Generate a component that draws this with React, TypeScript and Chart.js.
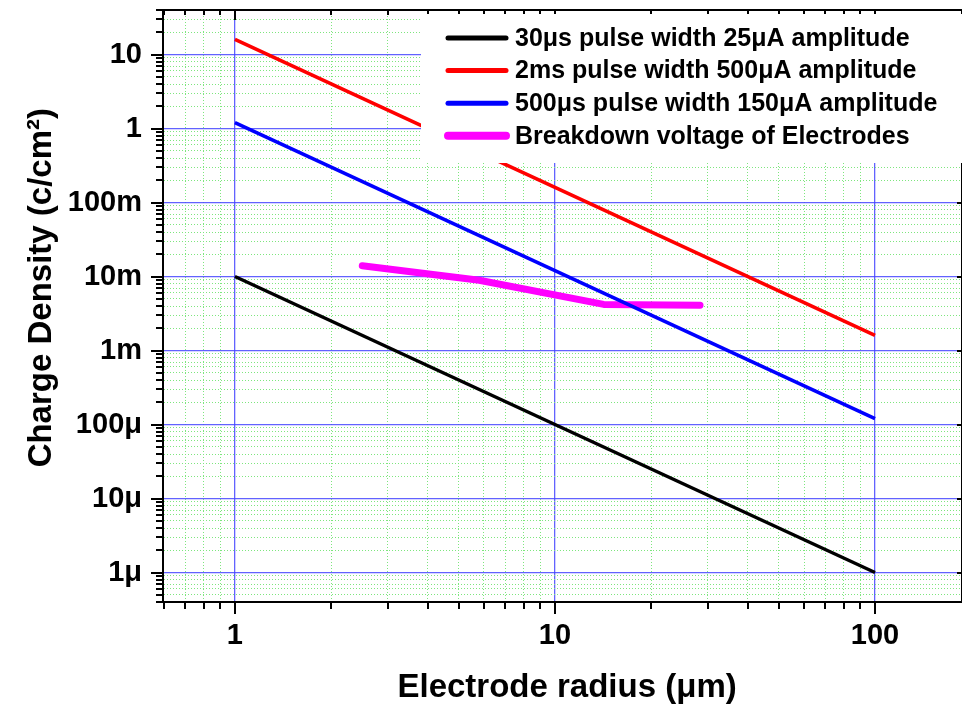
import React, { useEffect, useRef } from 'react';
import { Chart, registerables } from 'chart.js';

Chart.register(...registerables);

// ---- data ----
const radiusPoints = [1, 10, 100];
const density30us = [1e-2, 1e-4, 1e-6];
const density2ms = [16, 0.16, 1.6e-3];
const density500us = [1.2, 1.2e-2, 1.2e-4];
const breakdownRadius = [2.5, 5.8, 14.2, 28.4];
const breakdownDensity = [0.014, 0.0089, 0.0042, 0.0041];

const seriesLabels = [
  '30μs pulse width 25μA amplitude',
  '2ms pulse width 500μA amplitude',
  '500μs pulse width 150μA amplitude',
  'Breakdown voltage of Electrodes',
];

const xTickValues = [1, 10, 100];
const xTickLabels = ['1', '10', '100'];
const yTickValues = [10, 1, 0.1, 0.01, 0.001, 1e-4, 1e-5, 1e-6];
const yTickLabels = ['10', '1', '100m', '10m', '1m', '100μ', '10μ', '1μ'];

const FONT = '"Liberation Sans", Arial, Helvetica, sans-serif';

const lg = Math.log10;
const isDecade = (v: number) => Math.abs(lg(v) - Math.round(lg(v))) < 1e-6;
const isNatural = (v: number) => {
  const e = Math.floor(lg(v) + 1e-9);
  const m = v / Math.pow(10, e);
  return Math.abs(m - Math.round(m)) < 1e-6;
};
const labelFor = (v: number, vals: number[], labels: string[]) => {
  const i = vals.findIndex((t) => Math.abs(lg(t) - lg(v)) < 1e-6);
  return i >= 0 ? labels[i] : '';
};

const gridColor = (c: any) => {
  const t = c.tick;
  if (!t) return 'rgba(0,0,0,0)';
  if (isDecade(t.value)) return 'rgba(70,70,255,0.85)';
  if (isNatural(t.value)) return '#7ee67e';
  return 'rgba(0,0,0,0)';
};
const gridWidth = (c: any) => (c.tick && isDecade(c.tick.value) ? 1.3 : 1);
const gridDash = (c: any) => (c.tick && !isDecade(c.tick.value) ? [1, 2] : []);

const noPad = (s: any) => {
  s.paddingTop = 0;
  s.paddingBottom = 0;
  s.paddingLeft = 0;
  s.paddingRight = 0;
};

const decorPlugin = {
  id: 'decor',
  afterDraw(chart: any) {
    const { ctx, chartArea: a, scales } = chart;
    const xs = scales.x;
    const ys = scales.y;
    ctx.save();
    ctx.strokeStyle = '#000';
    ctx.lineWidth = 2;
    ctx.lineCap = 'butt';
    ctx.setLineDash([]);
    // top & right frame
    ctx.beginPath();
    ctx.moveTo(a.left - 1, a.top);
    ctx.lineTo(a.right + 1, a.top);
    ctx.moveTo(a.right, a.top);
    ctx.lineTo(a.right, a.bottom);
    ctx.stroke();
    // x ticks
    ctx.beginPath();
    for (const t of xs.ticks) {
      if (!isNatural(t.value)) continue;
      const px = Math.round(xs.getPixelForValue(t.value));
      if (px < a.left - 0.5 || px > a.right + 0.5) continue;
      const maj = isDecade(t.value);
      ctx.moveTo(px, a.bottom);
      ctx.lineTo(px, a.bottom + (maj ? 12 : 7));
      ctx.moveTo(px, a.top);
      ctx.lineTo(px, a.top + (maj ? 10 : 5));
    }
    // y ticks
    for (const t of ys.ticks) {
      if (!isNatural(t.value)) continue;
      const py = Math.round(ys.getPixelForValue(t.value));
      if (py < a.top - 0.5 || py > a.bottom + 0.5) continue;
      const maj = isDecade(t.value);
      ctx.moveTo(a.left, py);
      ctx.lineTo(a.left - (maj ? 12 : 7), py);
      if (maj) {
        ctx.moveTo(a.right, py);
        ctx.lineTo(a.right - 5, py);
      }
    }
    ctx.stroke();

    // legend box (covers grid and lines, like the reference)
    const boxLeft = a.left + 258;
    const boxTop = a.top + 4;
    const boxBottom = a.top + 153;
    ctx.fillStyle = '#ffffff';
    ctx.fillRect(boxLeft, boxTop, a.right - boxLeft, boxBottom - boxTop);
    const ds = chart.data.datasets;
    ctx.font = `bold 25px ${FONT}`;
    ctx.textBaseline = 'middle';
    ctx.textAlign = 'left';
    for (let i = 0; i < ds.length; i++) {
      const y = a.top + 28 + i * 32.6;
      ctx.strokeStyle = ds[i].borderColor;
      ctx.lineWidth = i === 3 ? 8 : 5;
      ctx.lineCap = 'round';
      ctx.beginPath();
      ctx.moveTo(boxLeft + 27, y);
      ctx.lineTo(boxLeft + 85, y);
      ctx.stroke();
      ctx.fillStyle = '#000';
      ctx.fillText(ds[i].label, boxLeft + 94, y + 1);
    }
    ctx.restore();
  },
};

export default function App() {
  const ref = useRef<HTMLCanvasElement>(null);
  useEffect(() => {
    document.body.style.margin = '0';
    Chart.defaults.font.family = FONT;
    const mk = (xsArr: number[], ysArr: number[]) => xsArr.map((x, i) => ({ x, y: ysArr[i] }));
    const chart = new Chart(ref.current!, {
      type: 'line',
      data: {
        datasets: [
          { label: seriesLabels[0], data: mk(radiusPoints, density30us), borderColor: '#000000', borderWidth: 3.4 },
          { label: seriesLabels[1], data: mk(radiusPoints, density2ms), borderColor: '#ff0000', borderWidth: 3.6 },
          { label: seriesLabels[2], data: mk(radiusPoints, density500us), borderColor: '#0000ff', borderWidth: 3.6 },
          {
            label: seriesLabels[3],
            data: mk(breakdownRadius, breakdownDensity),
            borderColor: '#ff00ff',
            borderWidth: 7,
            borderCapStyle: 'round',
            borderJoinStyle: 'round',
          },
        ] as any,
      },
      options: {
        responsive: false,
        animation: false,
        events: [],
        elements: { point: { radius: 0 }, line: { tension: 0, fill: false } },
        layout: { padding: { top: 10, right: 0, bottom: 0, left: 0 }, autoPadding: false },
        plugins: { legend: { display: false }, tooltip: { enabled: false } },
        scales: {
          x: {
            type: 'logarithmic',
            min: 0.596,
            max: 187,
            afterFit: (s: any) => { s.height = 108; noPad(s); },
            grid: { color: gridColor, lineWidth: gridWidth, drawTicks: false },
            border: { display: true, color: '#000', width: 2, dash: gridDash },
            ticks: {
              autoSkip: false,
              maxRotation: 0,
              minRotation: 0,
              padding: 17,
              color: '#000',
              font: { size: 29, weight: 'bold' },
              callback: (v: any) => labelFor(Number(v), xTickValues, xTickLabels),
            },
            title: {
              display: true,
              text: ' Electrode radius (μm)',
              color: '#000',
              font: { size: 33, weight: 'bold' },
              padding: { top: 0, bottom: 2 },
            },
          },
          y: {
            type: 'logarithmic',
            min: 4e-7,
            max: 40,
            afterFit: (s: any) => { s.width = 163; noPad(s); },
            grid: { color: gridColor, lineWidth: gridWidth, drawTicks: false },
            border: { display: true, color: '#000', width: 2, dash: gridDash },
            ticks: {
              autoSkip: false,
              padding: 21,
              color: '#000',
              font: { size: 29, weight: 'bold' },
              callback: (v: any) => labelFor(Number(v), yTickValues, yTickLabels),
            },
            title: {
              display: true,
              text: '    Charge Density (c/cm²)',
              color: '#000',
              font: { size: 33, weight: 'bold' },
              padding: { top: 22, bottom: 0 },
            },
          },
        },
      } as any,
      plugins: [decorPlugin],
    });
    return () => chart.destroy();
  }, []);
  return (
    <div style={{ width: 962, height: 710 }}>
      <canvas ref={ref} width={962} height={710} style={{ display: 'block' }} />
    </div>
  );
}
